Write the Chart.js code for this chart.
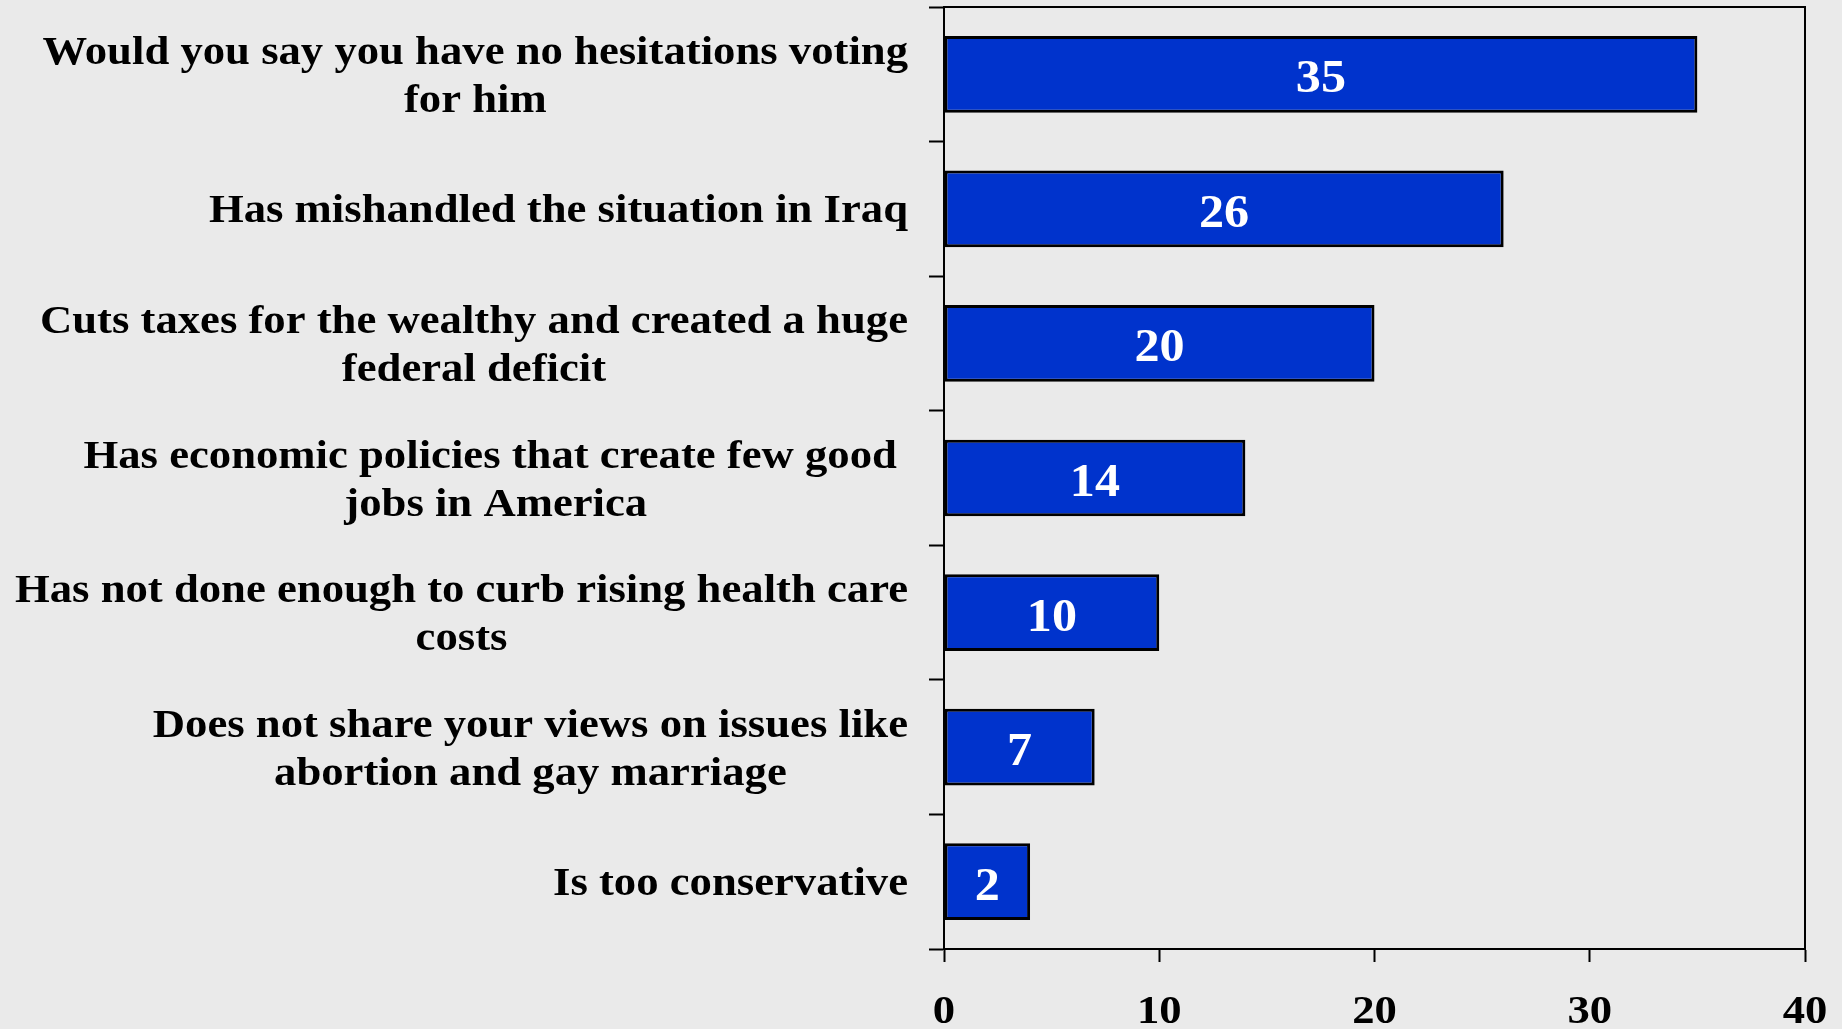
<!DOCTYPE html>
<html>
<head>
<meta charset="utf-8">
<script src="https://cdn.jsdelivr.net/npm/chart.js@4.4.1/dist/chart.umd.min.js"></script>
<style>
  html, body { margin: 0; padding: 0; background: #eaeaea; }
  #wrap { width: 1842px; height: 1029px; }
</style>
</head>
<body>
<div id="wrap"><canvas id="chart" width="1842" height="1029"></canvas></div>
<script>
// category labels, one array of lines per bar
const categories = [
    ['Would you say you have no hesitations voting', 'for him'],
    ['Has mishandled the situation in Iraq'],
    ['Cuts taxes for the wealthy and created a huge', 'federal deficit'],
    ['Has economic policies that create few good ', 'jobs in America'],
    ['Has not done enough to curb rising health care', 'costs'],
    ['Does not share your views on issues like', 'abortion and gay marriage'],
    ['Is too conservative']
]
// bar lengths as drawn in the picture
const barLengths = [35, 26, 20, 14, 10, 7, 4]
// numbers printed on the bars
const valueLabels = ['35', '26', '20', '14', '10', '7', '2']
const xTicks = [0, 10, 20, 30, 40]

const FONT = '"Liberation Serif", "Times New Roman", serif'
const STRETCH = 1.09 // text in the original is a bit wide

const drawWide = (ctx, text, x, y) => {
    ctx.save()
    ctx.translate(x, y)
    ctx.scale(STRETCH, 1)
    ctx.fillText(text, 0, 0)
    ctx.restore()
}

// frame on top and right of the plot
const framePlugin = {
    id: 'frame',
    afterDraw: chart => {
        const { ctx, chartArea: a } = chart
        ctx.save()
        ctx.strokeStyle = '#000'
        ctx.lineWidth = 2
        ctx.beginPath()
        ctx.moveTo(a.left, a.top)
        ctx.lineTo(a.right, a.top)
        ctx.lineTo(a.right, a.bottom)
        ctx.stroke()
        ctx.restore()
    }
}

// category text: block right aligned, lines centred inside it
const categoryLabelPlugin = {
    id: 'categoryLabels',
    afterDraw: chart => {
        const { ctx, chartArea: a } = chart
        const yScale = chart.scales.y
        ctx.save()
        ctx.font = `bold 41px ${FONT}`
        ctx.fillStyle = '#000'
        ctx.textAlign = 'center'
        ctx.textBaseline = 'alphabetic'
        const right = a.left - 36
        const lineH = 48
        categories.forEach((lines, i) => {
            const y = yScale.getPixelForValue(i)
            const maxW = STRETCH * Math.max(...lines.map(l => ctx.measureText(l).width))
            const cx = right - maxW / 2
            lines.forEach((l, j) => {
                drawWide(ctx, l, cx, y + 13.5 + (j - (lines.length - 1) / 2) * lineH)
            })
        })
        ctx.restore()
    }
}

// x tick numbers under the axis
const xLabelPlugin = {
    id: 'xLabels',
    afterDraw: chart => {
        const { ctx } = chart
        const xScale = chart.scales.x
        ctx.save()
        ctx.font = `bold 41px ${FONT}`
        ctx.fillStyle = '#000'
        ctx.textAlign = 'center'
        ctx.textBaseline = 'alphabetic'
        xTicks.forEach(v => drawWide(ctx, String(v), xScale.getPixelForValue(v), xScale.bottom + 61))
        ctx.restore()
    }
}

// white numbers centred in the bars
const valueLabelPlugin = {
    id: 'valueLabels',
    afterDatasetsDraw: chart => {
        const { ctx } = chart
        const meta = chart.getDatasetMeta(0)
        ctx.save()
        ctx.font = `bold 46px ${FONT}`
        ctx.fillStyle = '#fff'
        ctx.textAlign = 'center'
        ctx.textBaseline = 'alphabetic'
        meta.data.forEach((bar, i) => {
            drawWide(ctx, valueLabels[i], (bar.base + bar.x) / 2, bar.y + 18)
        })
        ctx.restore()
    }
}

const ctx = document.getElementById('chart').getContext('2d')
new Chart(ctx, {
    type: 'bar',
    data: {
        labels: categories.map(c => c.join(' ')),
        datasets: [{
            data: barLengths,
            backgroundColor: '#0033cc',
            borderColor: '#000',
            borderWidth: 3,
            borderSkipped: false,
            barPercentage: 0.57,
            categoryPercentage: 1
        }]
    },
    options: {
        indexAxis: 'y',
        responsive: false,
        animation: false,
        layout: { padding: { left: 929, right: 37, top: 7, bottom: 67 } },
        plugins: {
            legend: { display: false },
            tooltip: { enabled: false }
        },
        scales: {
            x: {
                min: xTicks[0],
                max: xTicks[xTicks.length - 1],
                afterBuildTicks: axis => { axis.ticks = xTicks.map(v => ({ value: v })) },
                grid: { drawOnChartArea: false, tickLength: 13, tickColor: '#000', tickWidth: 2 },
                border: { color: '#000', width: 2 },
                ticks: { display: false }
            },
            y: {
                grid: { drawOnChartArea: false, offset: true, tickLength: 15, tickColor: '#000', tickWidth: 2 },
                border: { color: '#000', width: 2 },
                ticks: { display: false }
            }
        }
    },
    plugins: [framePlugin, categoryLabelPlugin, xLabelPlugin, valueLabelPlugin]
})
</script>
</body>
</html>
